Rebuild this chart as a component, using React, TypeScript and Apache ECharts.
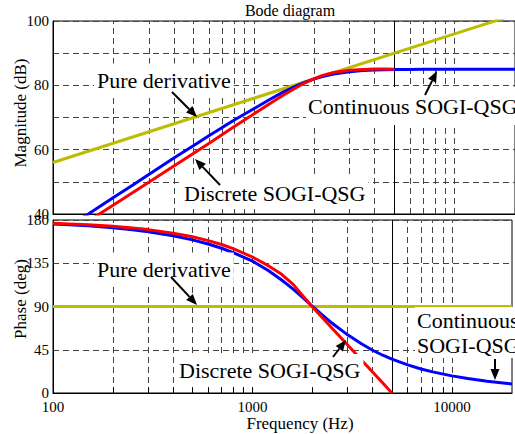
import React, { useEffect, useRef } from 'react';
import * as echarts from 'echarts';

// ---- data ----
const freqHz = [100, 120, 150, 200, 250, 300, 400, 500, 600, 700, 800, 1000, 1200, 1400, 1600, 1800, 2000, 2200, 2500, 3000, 3500, 4000, 4500, 5000, 6000, 7000, 8000, 10000, 12000, 15000, 20000];
const magContinuous = [33.0, 36.2, 40.0, 45.1, 49.0, 52.3, 57.4, 61.2, 64.4, 67.0, 69.2, 72.7, 75.6, 77.9, 79.6, 81.0, 82.0, 82.7, 83.5, 84.2, 84.6, 84.75, 84.85, 84.9, 84.95, 84.97, 84.98, 85.0, 85.0, 85.0, 85.0];
const magDiscrete = [30.8, 33.9, 37.8, 42.8, 46.7, 49.9, 54.9, 58.8, 62.0, 64.8, 67.2, 71.1, 74.3, 76.9, 79.0, 80.8, 82.1, 83.1, 84.0, 84.7, 84.95, 85.05, 85.05, 85.0];
const phaseContinuous = [175.9, 175.1, 173.9, 171.9, 169.8, 167.8, 163.6, 159.3, 155.0, 150.6, 146.0, 137.2, 127.5, 117.6, 108.0, 98.7, 90.0, 82.5, 72.8, 60.5, 51.5, 44.5, 39.3, 35.2, 29.2, 25.0, 22.0, 17.8, 15.0, 12.2, 9.3];
const phaseDiscrete = [176.5, 175.9, 175.0, 173.5, 171.8, 170.0, 166.3, 162.5, 158.5, 154.5, 150.3, 141.5, 132.5, 123.5, 113.0, 100.5, 89.5, 80.2, 67.7, 49.9, 34.8, 21.8, 10.3, 0.0];
const derivFreq = [100, 1000, 10000, 20000];
const derivMag = [56.0, 76.0, 96.0, 102.0];
const derivPhase = [90, 90, 90, 90];

const gridFreqs = [200, 300, 400, 500, 600, 700, 800, 900, 1000, 2000, 3000, 4000, 6000, 7000, 8000, 9000, 10000];
const nyquistHz = 5000;
const xTickLabels = [100, 1000, 10000];
const magTickLabels = [40, 60, 80, 100];

const FONT = 'Liberation Serif';
const YELLOW = '#bcbc00';
const BLUE = '#0000ff';
const RED = '#ff0000';

function pairs(xs: number[], ys: number[]) {
  return ys.map((y, i) => [xs[i], y]);
}

function arrow(x1: number, y1: number, x2: number, y2: number) {
  const dx = x2 - x1, dy = y2 - y1;
  const len = Math.hypot(dx, dy);
  const ux = dx / len, uy = dy / len;
  const hl = 11, hw = 4.5;
  const bx = x2 - ux * hl, by = y2 - uy * hl;
  const px = -uy, py = ux;
  return [
    { type: 'line', z: 20, shape: { x1, y1, x2: bx, y2: by }, style: { stroke: '#000', lineWidth: 2 } },
    { type: 'polygon', z: 20, shape: { points: [[x2, y2], [bx + px * hw, by + py * hw], [bx - px * hw, by - py * hw]] }, style: { fill: '#000' } },
  ];
}

function label(text: string, x: number, y: number, padding: number[] = [4, 3, 4, 3]) {
  return {
    type: 'text', z: 5, x, y,
    style: {
      text, fontFamily: FONT, fontSize: 22, fill: '#000',
      textAlign: 'left', textVerticalAlign: 'middle', verticalAlign: 'middle',
      backgroundColor: '#fff', padding,
    },
  };
}

export default function App() {
  const ref = useRef<HTMLDivElement>(null);
  useEffect(() => {
    if (!ref.current) return;
    const chart = echarts.init(ref.current, undefined, { renderer: 'svg' });
    const xLabelFmt = (v: number) => {
      const t = xTickLabels.find((k) => Math.abs(k - v) / k < 1e-6);
      return t ? String(t) : '';
    };
    const dashed = { type: [6, 4], color: '#444', width: 1 };
    const vLines = [
      ...gridFreqs.map((f) => ({ xAxis: f })),
      { xAxis: nyquistHz, lineStyle: { type: 'solid', color: '#000', width: 1 } },
    ];
    const ticks = gridFreqs.map((f) => [
      { coord: [f, 0], lineStyle: { type: 'solid', color: '#000', width: 1 } },
      { coord: [f, 6] },
    ]);
    const lineSeries = (data: number[][], color: string, xi: number) => ({
      type: 'line', xAxisIndex: xi, yAxisIndex: xi, data, symbol: 'none', showSymbol: false,
      z: 3, clip: true, silent: true,
      lineStyle: { color, width: 3 },
    });
    const option: any = {
      animation: false,
      backgroundColor: '#fff',
      textStyle: { fontFamily: FONT },
      grid: [
        { left: 53, top: 21, width: 467, height: 193, show: true, borderColor: '#000', borderWidth: 1, backgroundColor: 'transparent' },
        { left: 53, top: 220, width: 467, height: 173, show: true, borderColor: '#000', borderWidth: 1, backgroundColor: 'transparent' },
      ],
      xAxis: [
        {
          gridIndex: 0, type: 'log', logBase: 10, min: 100, max: 20000,
          axisLine: { show: true, lineStyle: { color: '#000' } }, axisTick: { show: false },
          axisLabel: { show: false }, splitLine: { show: false },
        },
        {
          gridIndex: 1, type: 'log', logBase: 10, min: 100, max: 20000,
          axisLine: { show: true, lineStyle: { color: '#000' } }, axisTick: { show: false },
          axisLabel: { show: true, formatter: xLabelFmt, color: '#000', fontFamily: FONT, fontSize: 15, margin: 6 },
          splitLine: { show: false },
        },
      ],
      yAxis: [
        {
          gridIndex: 0, type: 'value', min: 40, max: 100, interval: 10,
          axisLine: { show: true, lineStyle: { color: '#000' } }, axisTick: { show: false },
          axisLabel: {
            color: '#000', fontFamily: FONT, fontSize: 15, margin: 4,
            formatter: (v: number) => (magTickLabels.includes(v) ? String(v) : ''),
          },
          splitLine: { show: true, lineStyle: dashed },
        },
        {
          gridIndex: 1, type: 'value', min: 0, max: 180, interval: 45,
          axisLine: { show: true, lineStyle: { color: '#000' } }, axisTick: { show: false },
          axisLabel: { color: '#000', fontFamily: FONT, fontSize: 15, margin: 4 },
          splitLine: { show: true, lineStyle: dashed },
        },
      ],
      series: [
        {
          type: 'line', xAxisIndex: 0, yAxisIndex: 0, data: [[100, 50]], symbol: 'none', z: 1,
          lineStyle: { width: 0 }, silent: true,
          markLine: { silent: true, z: 1, symbol: 'none', label: { show: false }, animation: false, lineStyle: dashed, data: vLines },
        },
        {
          type: 'line', xAxisIndex: 1, yAxisIndex: 1, data: [[100, 50]], symbol: 'none', z: 1,
          lineStyle: { width: 0 }, silent: true,
          markLine: { silent: true, z: 1, symbol: 'none', label: { show: false }, animation: false, lineStyle: dashed, data: [...vLines, ...ticks] },
        },
        lineSeries(pairs(derivFreq, derivMag), YELLOW, 0),
        lineSeries(pairs(freqHz, magContinuous), BLUE, 0),
        lineSeries(pairs(freqHz, magDiscrete), RED, 0),
        lineSeries(pairs(derivFreq, derivPhase), YELLOW, 1),
        lineSeries(pairs(freqHz, phaseContinuous), BLUE, 1),
        lineSeries(pairs(freqHz, phaseDiscrete), RED, 1),
      ],
      graphic: [
        { type: 'text', z: 5, x: 290, y: 10, style: { text: 'Bode diagram', fontFamily: FONT, fontSize: 16, fill: '#000', textAlign: 'center', textVerticalAlign: 'middle', verticalAlign: 'middle' } },
        { type: 'text', z: 5, x: 20, y: 113, rotation: Math.PI / 2, style: { text: 'Magnitude (dB)', fontFamily: FONT, fontSize: 17, fill: '#000', textAlign: 'center', textVerticalAlign: 'middle', verticalAlign: 'middle' } },
        { type: 'text', z: 5, x: 20, y: 299, rotation: Math.PI / 2, style: { text: 'Phase (deg)', fontFamily: FONT, fontSize: 17, fill: '#000', textAlign: 'center', textVerticalAlign: 'middle', verticalAlign: 'middle' } },
        { type: 'text', z: 5, x: 300, y: 423, style: { text: 'Frequency (Hz)', fontFamily: FONT, fontSize: 17, fill: '#000', textAlign: 'center', textVerticalAlign: 'middle', verticalAlign: 'middle' } },
        label('Pure derivative', 94, 80, [6, 3, 5, 3]),
        label('Continuous SOGI-QSG', 306, 106, [8, 2, 8, 2]),
        label('Discrete SOGI-QSG', 181, 193, [5, 3, 5, 3]),
        label('Pure derivative', 94, 269, [6, 3, 5, 3]),
        label('Discrete SOGI-QSG', 176, 370, [5, 3, 5, 3]),
        label('Continuous', 415, 320, [3, 2, 1, 2]),
        label('SOGI-QSG', 415, 345, [1, 2, 3, 2]),
        ...arrow(172, 92, 197, 117),
        ...arrow(425, 95, 437, 71),
        ...arrow(220, 185, 195, 159),
        ...arrow(171, 277, 197, 305),
        ...arrow(333, 357, 346, 340),
        ...arrow(495, 359, 495, 380),
      ],
    };
    chart.setOption(option);
    return () => chart.dispose();
  }, []);
  return (
    <div
      ref={ref}
      style={{ position: 'absolute', left: 0, top: 0, width: 515, height: 434, background: '#fff' }}
    />
  );
}
